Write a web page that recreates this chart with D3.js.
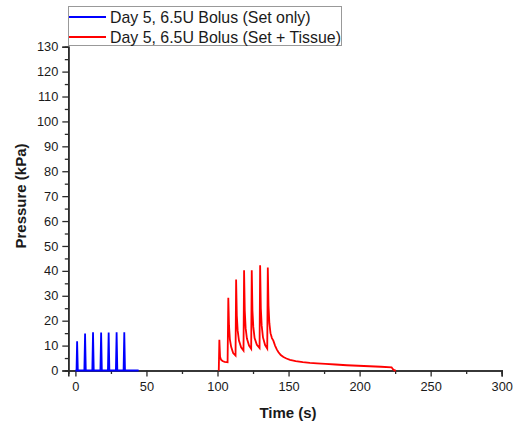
<!DOCTYPE html>
<html>
<head>
<meta charset="utf-8">
<script src="https://cdn.jsdelivr.net/npm/d3@7"></script>
<style>
  body { margin: 0; background: #fff; }
  text { font-family: "Liberation Sans", Arial, sans-serif; fill: #1a1a1a; }
</style>
</head>
<body>
<div id="chart"></div>
<script>
// blue trace: set only
var setTime = [0, 0.8, 1.2, 1.7, 6.3, 6.8, 7.3, 11.9, 12.4, 12.9, 17.6, 18.1, 18.6,
               22.9, 23.4, 23.9, 28.5, 29.0, 29.5, 33.9, 34.4, 34.9, 44.5];
var setPressure = [0, 0, 11.7, 0, 0, 14.8, 0, 0, 15.3, 0, 0, 15.2, 0,
                   0, 15.2, 0, 0, 15.3, 0, 0, 15.3, 0, 0];

// red trace: set + tissue
var tissueTime = [100.9, 101.3, 101.8, 102.5, 103.5, 105, 107.1, 107.6, 108.1, 108.7, 109.6, 111, 112.7,
                  113.1, 113.6, 114.2, 115.1, 116.6, 118.3, 118.7, 119.2, 119.8, 120.7, 122.2, 123.7,
                  124.1, 124.6, 125.2, 126.1, 127.7, 129.6, 130.0, 130.5, 131.1, 132.0, 133.5, 135.0,
                  135.4, 135.9, 136.5, 137.3, 138.3, 139.3, 140.5, 141.7, 142.8, 144.5, 146.4, 148.5,
                  151, 155, 160, 165, 170, 176, 183, 191, 199, 207, 215, 222.5, 223.5, 224.8, 225.5];
var tissuePressure = [0, 12.3, 5.5, 4.3, 3.8, 3.5, 3.3, 29.2, 18, 12.5, 9.5, 7, 6,
                      36.5, 22, 16, 12, 9.3, 8, 40.2, 24, 17, 12.8, 10, 8.7,
                      40.2, 24, 17.5, 13, 10.3, 9, 42.3, 25, 18, 13.3, 10.2, 8.8,
                      41.3, 26, 19, 15, 13, 12, 10, 8.5, 7.4, 6.2, 5.4, 4.8,
                      4.3, 3.8, 3.4, 3.1, 2.9, 2.7, 2.4, 2.1, 1.9, 1.7, 1.5, 1.3, 0.5, 0, 0];

var xMajor = [0, 50, 100, 150, 200, 250, 300];
var xMinor = [25, 75, 125, 175, 225, 275];
var yMajor = [0, 10, 20, 30, 40, 50, 60, 70, 80, 90, 100, 110, 120, 130];
var yMinor = [5, 15, 25, 35, 45, 55, 65, 75, 85, 95, 105, 115, 125];

var seriesNames = ["Day 5, 6.5U Bolus (Set only)", "Day 5, 6.5U Bolus (Set + Tissue)"];
var seriesColors = ["#0000ff", "#ff0000"];

var svgW = 528;
var svgH = 425;

var svg = d3.select("#chart").append("svg")
    .attr("width", svgW).attr("height", svgH);

var x = d3.scaleLinear().domain([-5, 300]).range([68.3, 501.7]);
var y = d3.scaleLinear().domain([0, 130]).range([370.5, 46.7]);

// minor ticks first, then major axes
svg.append("g").attr("class", "axis")
    .attr("transform", "translate(0," + y(0) + ")")
    .call(d3.axisBottom(x).tickValues(xMinor).tickSize(3.5).tickFormat(""));
svg.append("g").attr("class", "axis")
    .attr("transform", "translate(" + x(-5) + ",0)")
    .call(d3.axisLeft(y).tickValues(yMinor).tickSize(3.5).tickFormat(""));

svg.append("g").attr("class", "axis")
    .attr("transform", "translate(0," + y(0) + ")")
    .call(d3.axisBottom(x).tickValues(xMajor).tickSize(6).tickPadding(5).tickFormat(d3.format("d")));
svg.append("g").attr("class", "axis")
    .attr("transform", "translate(" + x(-5) + ",0)")
    .call(d3.axisLeft(y).tickValues(yMajor).tickSize(6).tickPadding(4).tickFormat(d3.format("d")));

svg.selectAll(".axis path").attr("stroke", "#2b2b2b").attr("stroke-width", 1.6);
svg.selectAll(".axis line").attr("stroke", "#2b2b2b").attr("stroke-width", 1.3);
svg.selectAll(".axis text").attr("font-size", 12.8).attr("fill", "#1a1a1a")
    .attr("font-family", "Liberation Sans, Arial, sans-serif");

var line = d3.line().x(d => x(d[0])).y(d => y(d[1]));

svg.append("path")
    .datum(setTime.map((t, i) => [t, setPressure[i]]))
    .attr("d", line).attr("fill", "none")
    .attr("stroke", seriesColors[0]).attr("stroke-width", 1.8);

svg.append("path")
    .datum(tissueTime.map((t, i) => [t, tissuePressure[i]]))
    .attr("d", line).attr("fill", "none")
    .attr("stroke", seriesColors[1]).attr("stroke-width", 1.8);

// axis titles
svg.append("text")
    .attr("x", 288).attr("y", 418)
    .attr("text-anchor", "middle").attr("font-size", 15).attr("font-weight", "bold")
    .text("Time (s)");

svg.append("text")
    .attr("transform", "translate(26,196) rotate(-90)")
    .attr("text-anchor", "middle").attr("font-size", 15).attr("font-weight", "bold")
    .text("Pressure (kPa)");

// legend
var legend = svg.append("g");
legend.append("rect")
    .attr("x", 68.5).attr("y", 6.5).attr("width", 273).attr("height", 39)
    .attr("fill", "#fff").attr("stroke", "#999").attr("stroke-width", 1);

seriesNames.forEach(function(name, i) {
    var ly = 17 + i * 20;
    legend.append("line")
        .attr("x1", 69).attr("x2", 106).attr("y1", ly).attr("y2", ly)
        .attr("stroke", seriesColors[i]).attr("stroke-width", 2);
    legend.append("text")
        .attr("x", 110).attr("y", ly + 5.8)
        .attr("font-size", 15.9)
        .text(name);
});
</script>
</body>
</html>
